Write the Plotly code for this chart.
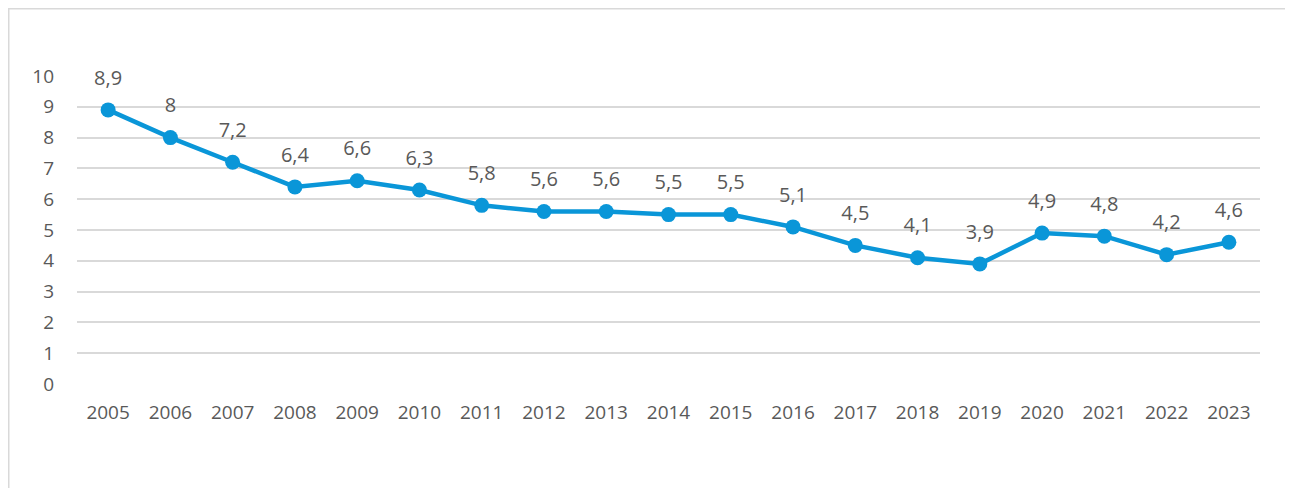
import plotly.graph_objects as go

years = [str(y) for y in range(2005, 2024)]
values = [8.9, 8.0, 7.2, 6.4, 6.6, 6.3, 5.8, 5.6, 5.6, 5.5, 5.5, 5.1, 4.5, 4.1, 3.9, 4.9, 4.8, 4.2, 4.6]
y_ticks = list(range(0, 11))

def fmt(v):
    return ("%g" % v).replace(".", ",")

labels = [fmt(v) for v in values]

blue = "#0A96D8"
txt = "#595959"
font_family = "Open Sans"
fs = 19

fig = go.Figure()
fig.add_trace(go.Scatter(
    x=years, y=values, mode="lines+markers",
    line=dict(color=blue, width=4.5),
    marker=dict(color=blue, size=15),
    hoverinfo="skip",
))
fig.add_trace(go.Scatter(
    x=years, y=values, mode="markers+text",
    text=labels, textposition="top center",
    textfont=dict(family=font_family, size=20, color=txt),
    marker=dict(color="rgba(0,0,0,0)", size=31),
    hoverinfo="skip", cliponaxis=False,
))

fig.update_layout(
    width=1293, height=488,
    margin=dict(l=69, r=41, t=68, b=112),
    paper_bgcolor="white", plot_bgcolor="white",
    showlegend=False,
    separators=",.",
    font=dict(family=font_family, size=fs, color=txt),
    xaxis=dict(type="category", range=[-0.5, 18.5], showgrid=False, zeroline=False,
               showline=False, ticks="", ticklabelstandoff=15,
               tickfont=dict(size=fs, color=txt)),
    yaxis=dict(range=[0, 10], tickvals=y_ticks, showgrid=True, gridcolor="#D9D9D9",
               gridwidth=1.5, zeroline=False, showline=False, ticks="",
               ticklabelstandoff=22, tickfont=dict(size=fs, color=txt)),
    shapes=[dict(type="rect", xref="paper", yref="paper",
                 x0=-0.0577, x1=1.0262, y0=-0.5, y1=1.2183,
                 line=dict(color="#D9D9D9", width=1.5), layer="below")],
)

fig.write_html("out.html")
